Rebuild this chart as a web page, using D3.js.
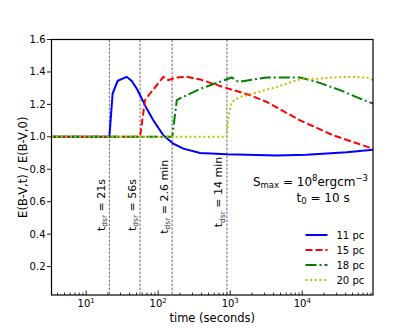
<!DOCTYPE html>
<html>
<head>
<meta charset="utf-8">
<script src="https://cdn.jsdelivr.net/npm/d3@7"></script>
<style>
  body { margin: 0; background: #fff; }
  text { font-family: "DejaVu Sans", sans-serif; fill: #000; }
</style>
</head>
<body>
<div class="chart"></div>
<script>
// data (time in seconds, ratio E(B-V,t)/E(B-V,0))
var blueT = [3.3, 21, 23.3, 27.4, 36.5, 42.9, 50.3, 59, 69.2, 85.5, 118, 162, 223, 381, 894, 4430, 11500, 41500, 96000];
var blueV = [1.0, 1.0, 1.267, 1.345, 1.37, 1.345, 1.298, 1.236, 1.174, 1.102, 1.009, 0.958, 0.927, 0.9, 0.892, 0.885, 0.89, 0.905, 0.92];

var redT = [3.3, 56, 65.6, 76.9, 95.3, 118, 138, 181, 249, 381, 650, 894, 1880, 3210, 9310, 27000, 96000];
var redV = [1.0, 1.0, 1.226, 1.267, 1.318, 1.37, 1.35, 1.366, 1.37, 1.354, 1.32, 1.30, 1.257, 1.215, 1.102, 1.009, 0.927];

var greenT = [3.3, 157, 181, 212, 381, 1050, 1300, 3210, 9310, 15900, 33500, 63500, 96000];
var greenV = [1.0, 1.0, 1.226, 1.242, 1.295, 1.366, 1.339, 1.366, 1.366, 1.339, 1.288, 1.236, 1.205];

var yellowT = [3.3, 894, 942, 1050, 1370, 2100, 4430, 9310, 15900, 27000, 46100, 78700, 96000];
var yellowV = [1.0, 1.0, 1.122, 1.215, 1.246, 1.267, 1.308, 1.355, 1.358, 1.366, 1.37, 1.365, 1.35];

var seriesNames = ["11 pc", "15 pc", "18 pc", "20 pc"];
var seriesColors = ["#0000ff", "#ff0000", "#008000", "#bfbf00"];
var seriesDash = [null, "7,3", "11,3,2,3", "2,2.6"];

// disruption times (vertical dashed lines), their labels and label heights
var dsrTimes = [21, 56, 156, 900];
var dsrLabels = ["21s", "56s", "2.6 min", "14 min"];
var dsrLabelY = [0.58, 0.58, 0.63, 0.66];

var yTicks = [0.2, 0.4, 0.6, 0.8, 1.0, 1.2, 1.4, 1.6];
var xMajor = [10, 100, 1000, 10000];
var xExp = ["1", "2", "3", "4"];

// set the dimensions and margins of the graph
var margin = {top: 39.5, right: 42, bottom: 37, left: 51.5},
    width = 415 - margin.left - margin.right,
    height = 332 - margin.top - margin.bottom;

var svg = d3.select(".chart")
  .append("svg")
    .attr("width", 415)
    .attr("height", 332)
  .append("g")
    .attr("transform", "translate(" + margin.left + "," + margin.top + ")");

var x = d3.scaleLog().domain([3.3, 96000]).range([0, width]);
var y = d3.scaleLinear().domain([0.025, 1.6]).range([height, 0]);

// minor ticks 2..9 of each decade
var xMinor = [];
[1, 10, 100, 1000, 10000].forEach(function(d) {
  for (var k = 2; k <= 9; k++) {
    var v = d * k;
    if (v >= x.domain()[0] && v <= x.domain()[1]) xMinor.push(v);
  }
});

// x ticks point inward
svg.selectAll(".xminor")
  .data(xMinor)
  .enter()
  .append("line")
    .attr("x1", function(d) { return x(d); })
    .attr("x2", function(d) { return x(d); })
    .attr("y1", height)
    .attr("y2", height - 2.5)
    .attr("stroke", "#000")
    .attr("stroke-width", 0.8);

svg.selectAll(".xmajor")
  .data(xMajor)
  .enter()
  .append("line")
    .attr("x1", function(d) { return x(d); })
    .attr("x2", function(d) { return x(d); })
    .attr("y1", height)
    .attr("y2", height - 4.5)
    .attr("stroke", "#000")
    .attr("stroke-width", 0.9);

var xl = svg.selectAll(".xlab")
  .data(xMajor)
  .enter()
  .append("text")
    .attr("x", function(d) { return x(d); })
    .attr("y", height + 12)
    .attr("text-anchor", "middle")
    .style("font-size", "10px");
xl.append("tspan").text("10");
xl.append("tspan")
  .attr("dy", -4.5)
  .style("font-size", "7px")
  .text(function(d, i) { return xExp[i]; });

// y ticks point outward
svg.selectAll(".ytick")
  .data(yTicks)
  .enter()
  .append("line")
    .attr("x1", -4.5)
    .attr("x2", 0)
    .attr("y1", function(d) { return y(d); })
    .attr("y2", function(d) { return y(d); })
    .attr("stroke", "#000")
    .attr("stroke-width", 0.9);

svg.selectAll(".ylab")
  .data(yTicks)
  .enter()
  .append("text")
    .attr("x", -6)
    .attr("y", function(d) { return y(d); })
    .attr("dy", "0.35em")
    .attr("text-anchor", "end")
    .style("font-size", "10px")
    .text(function(d) { return d.toFixed(1); });

// vertical dashed lines
svg.selectAll(".vline")
  .data(dsrTimes)
  .enter()
  .append("line")
    .attr("x1", function(d) { return x(d); })
    .attr("x2", function(d) { return x(d); })
    .attr("y1", 0)
    .attr("y2", height)
    .attr("stroke", "#444")
    .attr("stroke-width", 0.8)
    .attr("stroke-dasharray", "2.5,1.5");

var vt = svg.selectAll(".vtext")
  .data(dsrTimes)
  .enter()
  .append("text")
    .attr("transform", function(d, i) {
      return "translate(" + (x(d) - 4.5) + "," + y(dsrLabelY[i]) + ")rotate(-90)";
    })
    .attr("text-anchor", "middle")
    .style("font-size", "11px");
vt.append("tspan").text("t");
vt.append("tspan")
  .attr("dy", 2.5)
  .style("font-size", "7.5px")
  .style("fill", "#333")
  .text("dsr");
vt.append("tspan")
  .attr("dy", -2.5)
  .text(function(d, i) { return " = " + dsrLabels[i]; });

// curves
var allT = [blueT, redT, greenT, yellowT];
var allV = [blueV, redV, greenV, yellowV];

var line = d3.line()
  .x(function(d) { return x(d[0]); })
  .y(function(d) { return y(d[1]); });

svg.append("clipPath").attr("id", "clip")
  .append("rect").attr("width", width).attr("height", height);

allT.forEach(function(ts, i) {
  var pts = ts.map(function(t, j) { return [t, allV[i][j]]; });
  svg.append("path")
    .datum(pts)
    .attr("clip-path", "url(#clip)")
    .attr("d", line)
    .attr("fill", "none")
    .attr("stroke", seriesColors[i])
    .attr("stroke-width", 2)
    .attr("stroke-dasharray", seriesDash[i]);
});

// frame
svg.append("rect")
  .attr("width", width)
  .attr("height", height)
  .attr("fill", "none")
  .attr("stroke", "#000")
  .attr("stroke-width", 1.2);

// axis labels
svg.append("text")
  .attr("x", width / 2)
  .attr("y", height + 27)
  .attr("text-anchor", "middle")
  .style("font-size", "11.5px")
  .text("time (seconds)");

svg.append("text")
  .attr("transform", "translate(" + (-25) + "," + (height / 2) + ")rotate(-90)")
  .attr("text-anchor", "middle")
  .style("font-size", "11.5px")
  .text("E(B-V,t) / E(B-V,0)");

// annotation
var a1 = svg.append("text")
  .attr("x", width - 5)
  .attr("y", 146)
  .attr("text-anchor", "end")
  .style("font-size", "12px");
a1.append("tspan").text("S");
a1.append("tspan").attr("dy", 2.5).style("font-size", "8.5px").text("max");
a1.append("tspan").attr("dy", -2.5).text(" = 10");
a1.append("tspan").attr("dy", -5).style("font-size", "8.5px").text("8");
a1.append("tspan").attr("dy", 5).text("ergcm");
a1.append("tspan").attr("dy", -5).style("font-size", "8.5px").text("\u22123");

var a2 = svg.append("text")
  .attr("x", 245)
  .attr("y", 162)
  .style("font-size", "12px");
a2.append("tspan").text("t");
a2.append("tspan").attr("dy", 2.5).style("font-size", "8.5px").text("0");
a2.append("tspan").attr("dy", -2.5).text(" = 10 s");

// legend
var leg = svg.selectAll(".leg")
  .data(seriesNames)
  .enter()
  .append("g")
    .attr("transform", function(d, i) { return "translate(254," + (195.5 + i * 15) + ")"; });
leg.append("line")
  .attr("x1", 0)
  .attr("x2", 22)
  .attr("stroke", function(d, i) { return seriesColors[i]; })
  .attr("stroke-width", 2)
  .attr("stroke-dasharray", function(d, i) { return seriesDash[i]; });
leg.append("text")
  .attr("x", 31)
  .attr("dy", "0.35em")
  .style("font-size", "10px")
  .text(function(d) { return d; });
</script>
</body>
</html>
